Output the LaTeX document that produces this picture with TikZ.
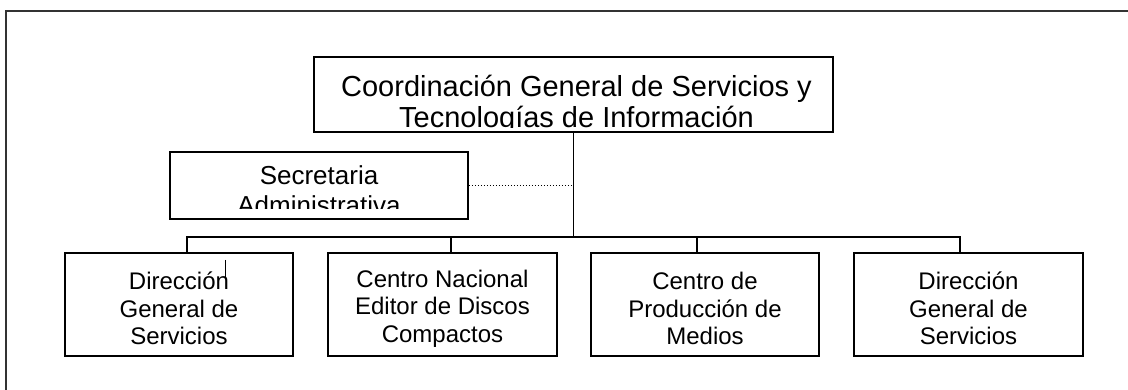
\documentclass[tikz,border=0pt]{standalone}
\usepackage{fontspec}
\setmainfont{Liberation Sans}
\begin{document}
\begin{tikzpicture}[x=1pt,y=-1pt,
  box/.style={draw, line width=1.9pt, rectangle, inner sep=0pt},
  conn/.style={line width=1.9pt},
  lbl/.style={anchor=base, inner sep=0pt},
  toptxt/.style={lbl, font=\fontsize{29}{31}\selectfont},
  sectxt/.style={lbl, font=\fontsize{26}{28}\selectfont},
  unit/.style={align=center, inner sep=0pt, yshift=-4pt, font=\fontsize{24}{27.5}\selectfont}]
\useasboundingbox (0,0) rectangle (1128,390);
% outer frame
\draw[line width=2.4pt, black!80] (6,395) -- (6,11) -- (1135,11);
% top box
\node[box, minimum width=519pt, minimum height=75pt] (top) at (573.5,94.5) {};
\begin{scope}
  \clip (315,58) rectangle (832,128);
  \node[toptxt] (topl1) at (576.5,97) {Coordinación General de Servicios y};
  \node[toptxt] (topl2) at (576.5,128) {Tecnologías de Información};
\end{scope}
% secretaria
\node[box, minimum width=298pt, minimum height=67pt] (sec) at (319,185.5) {};
\begin{scope}
  \clip (171,153) rectangle (467,209);
  \node[sectxt] (secl1) at (319,185) {Secretaria};
  \node[sectxt] (secl2) at (319,215) {Administrativa};
\end{scope}
% bottom boxes
\node[box, minimum width=228pt, minimum height=103pt] (b1) at (179,304.5) {};
\node[box, minimum width=229pt, minimum height=103pt] (b2) at (442.5,304.5) {};
\node[box, minimum width=228pt, minimum height=103pt] (b3) at (705,304.5) {};
\node[box, minimum width=229pt, minimum height=103pt] (b4) at (968.5,304.5) {};
\node[unit] (b1t) at (b1) {Dirección\\General de\\Servicios};
\node[unit] (b2t) at (b2) {Centro Nacional\\Editor de Discos\\Compactos};
\node[unit] (b3t) at (b3) {Centro de\\Producción de\\Medios};
\node[unit] (b4t) at (b4) {Dirección\\General de\\Servicios};
% connectors
\coordinate (bus) at (574,237);
\coordinate (t1) at (187,253);
\coordinate (t2) at (451,253);
\coordinate (t3) at (697,253);
\coordinate (t4) at (960,253);
\draw[conn] (top.south) -- (top.south |- bus);
\draw[conn, line cap=rect] (t1 |- bus) -- (t4 |- bus);
\draw[conn] (t1) -- (t1 |- bus);
\draw[conn] (t2) -- (t2 |- bus);
\draw[conn] (t3) -- (t3 |- bus);
\draw[conn] (t4) -- (t4 |- bus);
\draw[dotted, line width=1pt] (sec.east) -- (sec.east -| top.south);
% stray mark
\coordinate (m1) at (225,260);
\coordinate (m2) at (225,279);
\draw[line width=1pt] (m1) -- (m2);
\end{tikzpicture}
\end{document}
